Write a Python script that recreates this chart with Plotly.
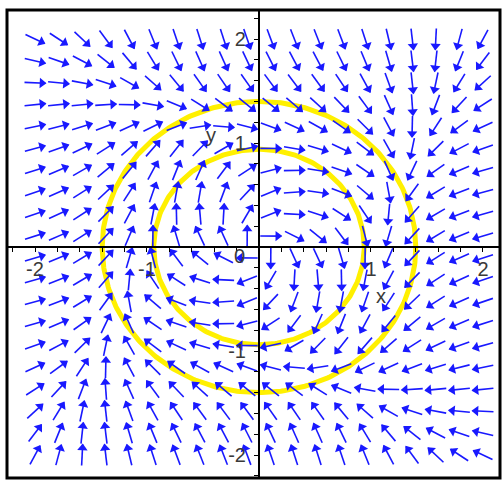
import numpy as np
import plotly.graph_objects as go

# ---- data ----
grid_x = np.linspace(-2, 2, 20)          # 20 arrow columns
grid_y = np.linspace(-2, 2, 20)          # 20 arrow rows
# direction field of the system  x' = y + x - x^3,  y' = -x + y - y^3
field_coef = {"x_lin": 1.0, "x_cub": -1.0, "y_lin": 1.0, "y_cub": -1.0}
yellow_radii = [0.94, 1.40]              # the two yellow circles
x_tick_vals = [-2, -1, 1, 2]
x_tick_text = ["-2", "-1", "1", "2"]
y_tick_vals = [-2, -1, 1, 2]
y_tick_text = ["-2", "-1", "1", "2"]
axis_names = ["x", "y"]

# ---- layout geometry ----
W, H = 502, 480
ML, MR, MT, MB = 7, 2, 10, 2
x_range = [-2.25, 2.152]
y_range = [-2.221, 2.279]
pw, ph = W - ML - MR, H - MT - MB
sx = pw / (x_range[1] - x_range[0])      # px per x unit
sy = ph / (y_range[1] - y_range[0])      # px per y unit

def field(x, y):
    u = y + field_coef["x_lin"] * x + field_coef["x_cub"] * x ** 3
    v = -x + field_coef["y_lin"] * y + field_coef["y_cub"] * y ** 3
    return u, v

BLUE = "rgb(25,25,255)"
ARROW_PX = 21.0
HEAD_BACK = 3.5

lx, ly, hx, hy, hang = [], [], [], [], []
for yv in grid_y:
    for xv in grid_x:
        u, v = field(xv, yv)
        px, py = u * sx, v * sy
        n = np.hypot(px, py)
        if n == 0:
            continue
        dx, dy = px / n, py / n
        tx, ty = xv - dx * ARROW_PX / 2 / sx, yv - dy * ARROW_PX / 2 / sy
        ex, ey = xv + dx * ARROW_PX / 2 / sx, yv + dy * ARROW_PX / 2 / sy
        lx += [tx, ex, None]
        ly += [ty, ey, None]
        hx.append(ex - dx * HEAD_BACK / sx)
        hy.append(ey - dy * HEAD_BACK / sy)
        hang.append(float(np.degrees(np.arctan2(dx, dy))))

fig = go.Figure()

t = np.linspace(0, 2 * np.pi, 361)
for r in yellow_radii:
    fig.add_trace(go.Scatter(x=r * np.cos(t), y=r * np.sin(t), mode="lines",
                             line=dict(color="rgb(255,240,0)", width=5),
                             hoverinfo="skip", showlegend=False))

fig.add_trace(go.Scatter(x=lx, y=ly, mode="lines",
                         line=dict(color=BLUE, width=1.6),
                         hoverinfo="skip", showlegend=False))
fig.add_trace(go.Scatter(x=hx, y=hy, mode="markers",
                         marker=dict(symbol="triangle-up", size=9, color=BLUE,
                                     angle=hang, line=dict(width=0)),
                         hoverinfo="skip", showlegend=False))

tick_font = dict(family="Liberation Sans", size=20, color="#3a3a3a")
minor_vals = [round(v, 1) for v in np.arange(-2.2, 2.21, 0.2)]

fig.update_layout(
    width=W, height=H,
    margin=dict(l=ML, r=MR, t=MT, b=MB),
    paper_bgcolor="white", plot_bgcolor="white",
    showlegend=False,
    xaxis=dict(range=x_range, anchor="free",
               position=(0 - y_range[0]) / (y_range[1] - y_range[0]),
               showgrid=False, zeroline=False, showline=True,
               linecolor="black", linewidth=2,
               ticks="outside", ticklen=4, tickwidth=1, tickcolor="black",
               tickmode="array", tickvals=x_tick_vals, ticktext=x_tick_text,
               tickfont=tick_font, ticklabelstandoff=0,
               minor=dict(tickvals=minor_vals, ticks="outside", ticklen=4,
                          tickcolor="black", tickwidth=1),
               automargin=False, fixedrange=True),
    yaxis=dict(range=y_range, anchor="free",
               position=(0 - x_range[0]) / (x_range[1] - x_range[0]),
               showgrid=False, zeroline=False, showline=True,
               linecolor="black", linewidth=2,
               ticks="outside", ticklen=4, tickwidth=1, tickcolor="black",
               tickmode="array", tickvals=y_tick_vals, ticktext=y_tick_text,
               tickfont=tick_font, ticklabelstandoff=4,
               minor=dict(tickvals=minor_vals, ticks="outside", ticklen=4,
                          tickcolor="black", tickwidth=1),
               automargin=False, fixedrange=True),
    shapes=[dict(type="rect", xref="paper", yref="paper", x0=0, x1=1, y0=0, y1=1,
                 line=dict(color="black", width=3), layer="above")],
    annotations=[
        dict(x=-0.17, y=-0.09, text="0", showarrow=False, font=tick_font,
             xanchor="center", yanchor="middle"),
        dict(x=1.09, y=-0.47, text=axis_names[0], showarrow=False, font=tick_font,
             xanchor="center", yanchor="middle"),
        dict(x=-0.43, y=1.08, text=axis_names[1], showarrow=False, font=tick_font,
             xanchor="center", yanchor="middle"),
    ],
)

fig.write_html("out.html", config={"displayModeBar": False},
               post_script="document.body.style.margin='0';document.body.style.overflow='hidden';")
